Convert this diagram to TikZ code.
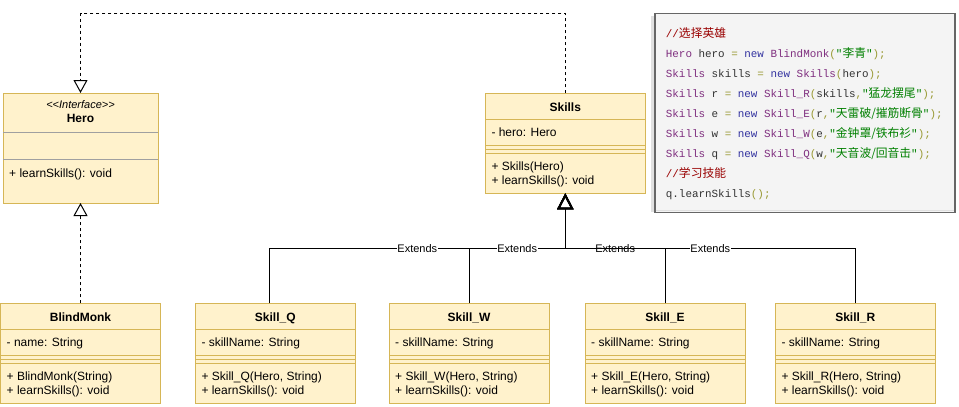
\documentclass[tikz,border=0pt]{standalone}
\usepackage{fontspec}
\setmainfont{Liberation Sans}
\setmonofont{Liberation Mono}
\newfontfamily\cjk{Noto Sans CJK SC}[Scale=1.08]
\usetikzlibrary{arrows.meta}
\definecolor{umlfill}{HTML}{FFF2CC}
\definecolor{umlborder}{HTML}{D6B656}
\definecolor{hdiv}{HTML}{A0A0A0}
\definecolor{codebg}{HTML}{F4F4F4}
\definecolor{codeframe}{HTML}{666666}
\definecolor{codestrip}{HTML}{E0E0E0}
\definecolor{ccomment}{HTML}{990000}
\definecolor{ctype}{HTML}{7F2F7F}
\definecolor{cvar}{HTML}{333333}
\definecolor{cop}{HTML}{999933}
\definecolor{ckw}{HTML}{3333A0}
\definecolor{cstr}{HTML}{008000}
\newcommand{\cTy}[1]{\textcolor{ctype}{#1}}
\newcommand{\cVr}[1]{\textcolor{cvar}{#1}}
\newcommand{\cOp}[1]{\textcolor{cop}{#1}}
\newcommand{\cKw}[1]{\textcolor{ckw}{#1}}
\newcommand{\cSt}[1]{\textcolor{cstr}{#1}}
\newcommand{\cCm}[1]{\textcolor{ccomment}{#1}}
\tikzset{
  x=1pt, y=-1pt,
  clsbox/.style={draw=umlborder, fill=umlfill, line width=1pt, minimum width=160pt,
    minimum height=100pt, anchor=north west, inner sep=0pt, outer sep=0pt},
  clsdiv/.style={draw=umlborder, line width=1pt},
  herodiv/.style={draw=hdiv, line width=1pt},
  clstitle/.style={anchor=base, inner sep=0pt, font=\fontsize{12}{14}\selectfont\bfseries},
  stereo/.style={anchor=base, inner sep=0pt, font=\fontsize{11}{13}\selectfont\itshape},
  member/.style={anchor=base west, inner sep=0pt, font=\fontsize{12}{14}\selectfont},
  implarrow/.style={draw=black, line width=1pt, dash pattern=on 3pt off 3pt,
    -{Triangle[open, length=13pt, width=14pt, line width=1pt]}},
  extarrow/.style={draw=black, line width=1pt,
    -{Triangle[open, length=16pt, width=16pt, line width=1.8pt]}},
  extlbl/.style={fill=white, inner sep=0.6pt, font=\fontsize{11}{13}\selectfont},
  codebox/.style={draw=codeframe, fill=codebg, line width=1.3pt, anchor=north west,
    minimum width=300pt, minimum height=199pt, inner sep=0pt, outer sep=0pt},
  codeline/.style={anchor=base west, inner sep=0pt, font=\fontsize{10.9}{13}\selectfont\ttfamily}
}
\newcommand{\umlclass}[7]{%
  \node[clsbox] (#1) at (#2,#3) {};
  \foreach \dv in {26,52,56,60}
    \draw[clsdiv] ([yshift=-\dv pt]#1.north west) -- ([yshift=-\dv pt]#1.north east);
  \node[clstitle] (#1-title) at ([yshift=-17.7pt]#1.north) {#4};
  \node[member] (#1-attr) at ([xshift=6pt,yshift=-43.6pt]#1.north west) {#5};
  \node[member] (#1-m1) at ([xshift=6pt,yshift=-77.3pt]#1.north west) {#6};
  \node[member] (#1-m2) at ([xshift=6pt,yshift=-91.4pt]#1.north west) {#7};
}
\begin{document}
\begin{tikzpicture}
\useasboundingbox (0,0) rectangle (959,407);
\fill[white] (0,0) rectangle (959,407);

% Interface Hero
\node[clsbox, minimum width=155pt, minimum height=110pt] (Hero) at (3,93) {};
\draw[herodiv] ([yshift=-39pt]Hero.north west) -- ([yshift=-39pt]Hero.north east);
\draw[herodiv] ([yshift=-66pt]Hero.north west) -- ([yshift=-66pt]Hero.north east);
\node[stereo] (Hero-stereo) at ([yshift=-15pt]Hero.north) {<\kern0pt<Interface>\kern0pt>};
\node[clstitle] (Hero-title) at ([yshift=-29.3pt]Hero.north) {Hero};
\node[member] (Hero-m1) at ([xshift=6pt,yshift=-84.3pt]Hero.north west) {+ learnSkills(): void};

% classes
\umlclass{Skills}{485.3}{93.3}{Skills}{- hero: Hero}{+ Skills(Hero)}{+ learnSkills(): void}
\umlclass{BlindMonk}{0.5}{303.3}{BlindMonk}{- name: String}{+ BlindMonk(String)}{+ learnSkills(): void}
\umlclass{SkillQ}{195.3}{303.3}{Skill\_Q}{- skillName: String}{+ Skill\_Q(Hero, String)}{+ learnSkills(): void}
\umlclass{SkillW}{389}{303.3}{Skill\_W}{- skillName: String}{+ Skill\_W(Hero, String)}{+ learnSkills(): void}
\umlclass{SkillE}{585}{303.3}{Skill\_E}{- skillName: String}{+ Skill\_E(Hero, String)}{+ learnSkills(): void}
\umlclass{SkillR}{775.3}{303.3}{Skill\_R}{- skillName: String}{+ Skill\_R(Hero, String)}{+ learnSkills(): void}

% realizations
\draw[implarrow] (BlindMonk.north) -- (Hero.south);
\draw[implarrow] (Skills.north) -- ++(0,-80) -| (Hero.north);

% extends
\path (Skills.south) ++(0,55) coordinate (bus);
\draw[extarrow] ([xshift=-6pt]SkillQ.north) |- node[extlbl,pos=0.75] (lblQ) {Extends} (bus) -- (Skills.south);
\draw[extarrow] (SkillW.north) |- node[extlbl,pos=0.75] (lblW) {Extends} (bus) -- (Skills.south);
\draw[extarrow] (SkillE.north) |- node[extlbl,pos=0.75] (lblE) {Extends} (bus) -- (Skills.south);
\draw[extarrow] (SkillR.north) |- node[extlbl,pos=0.75] (lblR) {Extends} (bus) -- (Skills.south);

% code box
\fill[codestrip] (650.5,15.5) rectangle (654.5,211.5);
\node[codebox] (code) at (655,13.3) {};
\draw[codestrip, line width=1pt] (655.7,210) -- (954.3,210);
\node[codeline] (c1) at (665.7,37.6) {\cCm{//{\cjk 选择英雄}}};
\node[codeline] (c2) at (665.7,57.4) {\cTy{Hero} \cVr{hero} \cOp{=} \cKw{new} \cTy{BlindMonk}\cOp{(}\cSt{"{\cjk 李青}"}\cOp{);}};
\node[codeline] (c3) at (665.7,77.4) {\cTy{Skills} \cVr{skills} \cOp{=} \cKw{new} \cTy{Skills}\cOp{(}\cVr{hero}\cOp{);}};
\node[codeline] (c4) at (665.7,97.4) {\cTy{Skills} \cVr{r} \cOp{=} \cKw{new} \cTy{Skill\_R}\cOp{(}\cVr{skills}\cOp{,}\cSt{"{\cjk 猛龙摆尾}"}\cOp{);}};
\node[codeline] (c5) at (665.7,117.4) {\cTy{Skills} \cVr{e} \cOp{=} \cKw{new} \cTy{Skill\_E}\cOp{(}\cVr{r}\cOp{,}\cSt{"{\cjk 天雷破/摧筋断骨}"}\cOp{);}};
\node[codeline] (c6) at (665.7,137.4) {\cTy{Skills} \cVr{w} \cOp{=} \cKw{new} \cTy{Skill\_W}\cOp{(}\cVr{e}\cOp{,}\cSt{"{\cjk 金钟罩/铁布衫}"}\cOp{);}};
\node[codeline] (c7) at (665.7,157.4) {\cTy{Skills} \cVr{q} \cOp{=} \cKw{new} \cTy{Skill\_Q}\cOp{(}\cVr{w}\cOp{,}\cSt{"{\cjk 天音波/回音击}"}\cOp{);}};
\node[codeline] (c8) at (665.7,177.4) {\cCm{//{\cjk 学习技能}}};
\node[codeline] (c9) at (665.7,197.4) {\cVr{q.learnSkills}\cOp{();}};
\end{tikzpicture}
\end{document}
